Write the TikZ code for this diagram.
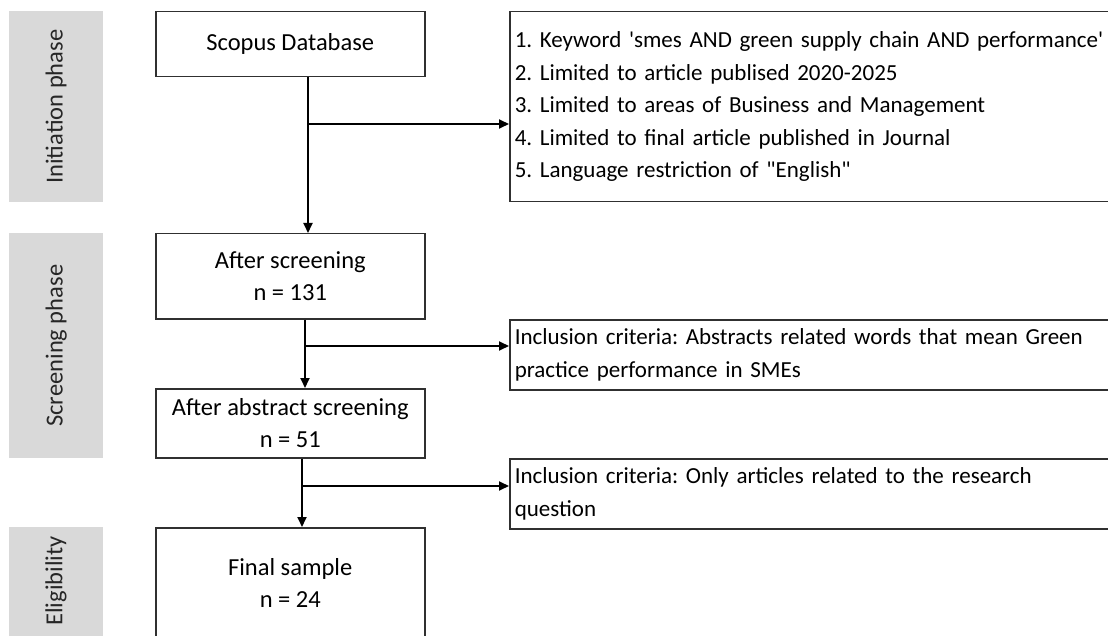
\documentclass[tikz,border=0pt]{standalone}
\usepackage{fontspec}
\setmainfont{Carlito}[Ligatures=TeXOff]
\usetikzlibrary{arrows.meta}
\definecolor{phasegray}{HTML}{D9D9D9}
\definecolor{boxline}{HTML}{303030}
\frenchspacing
\tikzset{
  txt/.style={font=\fontsize{24.5}{32.5}\selectfont},
  crittxt/.style={font=\fontsize{23}{32.5}\selectfont},
  flowbox/.style={txt, draw=boxline, line width=1.5pt, fill=white, align=center, inner sep=0pt, anchor=north west},
  critbox/.style={crittxt, draw=boxline, line width=1.5pt, fill=white, align=left, inner sep=5pt, text width=640pt, anchor=north west},
  phase/.style={fill=phasegray, inner sep=0pt, anchor=north west, minimum width=94pt},
  phaselabel/.style={txt, rotate=90, text=black!85},
  arr/.style={draw=black, line width=1.8pt, -{Triangle[length=10pt,width=9pt]}}
}
\begin{document}
\begin{tikzpicture}[x=1pt,y=-1pt]
\useasboundingbox (0,0) rectangle (1108,636);
\clip (0,0) rectangle (1108,636);
\fill[white] (0,0) rectangle (1108,636);

% phase bars
\node[phase, minimum height=191pt] (ph1) at (9,11) {};
\node[phaselabel] (ph1t) at (ph1.center) {Initiation phase};
\node[phase, minimum height=225pt] (ph2) at (9,233) {};
\node[phaselabel] (ph2t) at (ph2.center) {Screening phase};
\node[phase, minimum height=120pt] (ph3) at (9,527) {};
\node[phaselabel] (ph3l) at (56,581) {Eligibility};

% flow boxes
\node[flowbox, minimum width=269pt, minimum height=65pt] (scopus) at (155,11) {Scopus Database};
\node[flowbox, minimum width=269pt, minimum height=85pt] (after) at (155,233) {After screening\\n = 131};
\node[flowbox, minimum width=269pt, minimum height=69pt] (abstract) at (155,388) {After abstract screening\\n = 51};
\node[flowbox, minimum width=269pt, minimum height=110pt] (final) at (155,527) {Final sample\\n = 24};

% criteria boxes
\node[critbox, minimum height=190pt] (crit1) at (509,11) {1. Keyword 'smes AND green supply chain AND performance'\\2. Limited to article publised 2020-2025\\3. Limited to areas of Business and Management\\4. Limited to final article published in Journal\\5. Language restriction of "English"};
\node[critbox, minimum height=70pt] (crit2) at (509,319) {Inclusion criteria: Abstracts related words that mean Green\\practice performance in SMEs};
\node[critbox, minimum height=70pt] (crit3) at (509,458) {Inclusion criteria: Only articles related to the research\\question};

% connectors
\coordinate (j1) at (308,124);
\coordinate (j2) at (305,346);
\coordinate (j3) at (302,486);
\draw[arr] (scopus.south -| j1) -- (after.north -| j1);
\draw[arr] (j1) -- (crit1.west |- j1);
\draw[arr] (after.south -| j2) -- (abstract.north -| j2);
\draw[arr] (j2) -- (crit2.west |- j2);
\draw[arr] (abstract.south -| j3) -- (final.north -| j3);
\draw[arr] (j3) -- (crit3.west |- j3);
\end{tikzpicture}
\end{document}
